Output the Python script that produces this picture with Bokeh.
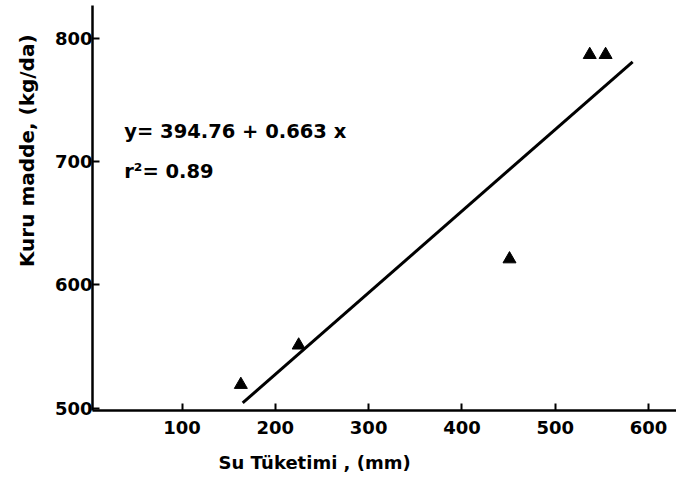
from bokeh.plotting import figure
from bokeh.models import Range1d, Label, FixedTicker, Title
from bokeh.embed import file_html
from bokeh.resources import INLINE

# data
water_use = [163, 225, 451, 537, 554]          # mm
dry_matter = [519, 551, 621, 787, 787]         # kg/da
intercept = 394.76
slope = 0.663
fit_x = [165, 583]
fit_y = [intercept + slope * v for v in fit_x]
x_ticks = [100, 200, 300, 400, 500, 600]
y_ticks = [500, 600, 700, 800]

FONT = "DejaVu Sans"

p = figure(width=676, height=485, output_backend="svg", toolbar_location=None,
           x_range=Range1d(4, 630), y_range=Range1d(498, 827),
           min_border_left=92, min_border_right=0, min_border_top=5, min_border_bottom=75)
p.outline_line_color = None
p.xgrid.visible = False
p.ygrid.visible = False
p.background_fill_color = "white"
p.border_fill_color = "white"

for ax in (p.xaxis[0], p.yaxis[0]):
    ax.axis_line_width = 2.5
    ax.axis_line_color = "black"
    ax.major_tick_line_width = 2
    ax.major_tick_in = 7
    ax.major_tick_out = 0
    ax.minor_tick_line_color = None
    ax.major_label_text_font = FONT
    ax.major_label_text_font_style = "bold"
    ax.major_label_text_font_size = "18px"
    ax.major_label_text_color = "black"

p.xaxis.ticker = FixedTicker(ticks=x_ticks)
p.yaxis.ticker = FixedTicker(ticks=y_ticks)
p.xaxis.major_label_standoff = 10
p.yaxis.major_label_standoff = 0

p.add_layout(Title(text="Su  Tüketimi , (mm)", align="left", offset=126,
                   text_font=FONT, text_font_style="bold", text_font_size="18px",
                   text_color="black", standoff=26), "below")
p.add_layout(Title(text="Kuru  madde, (kg/da)", align="right", offset=22,
                   text_font=FONT, text_font_style="bold", text_font_size="20px",
                   text_color="black", standoff=25), "left")

p.line(fit_x, fit_y, line_color="black", line_width=3)
p.scatter(water_use, dry_matter, marker="triangle", size=13, fill_color="black",
          line_color="black")

p.add_layout(Label(x=38, y=725, text="y= 394.76 + 0.663 x", text_font=FONT,
                   text_font_style="bold", text_font_size="19.5px", text_color="black",
                   text_baseline="middle"))
p.add_layout(Label(x=38, y=692, text="r\u00b2= 0.89", text_font=FONT,
                   text_font_style="bold", text_font_size="19.5px", text_color="black",
                   text_baseline="middle"))

open("out.html", "w").write(file_html(p, INLINE))
